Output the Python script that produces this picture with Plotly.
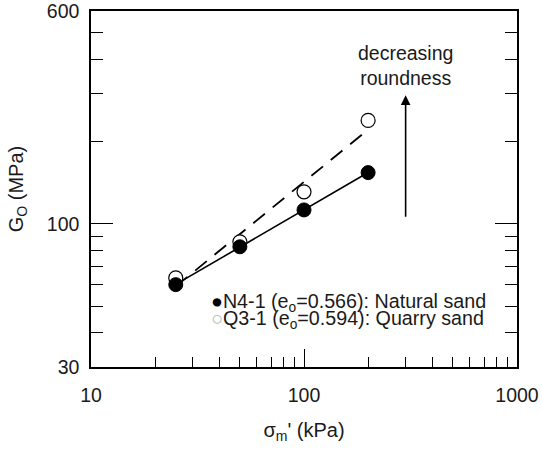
import numpy as np
import plotly.graph_objects as go

# Mean effective stress (kPa)
stress = [25, 50, 100, 200]
# Small-strain shear modulus (MPa)
g_natural = [60, 82.5, 112.5, 154]   # N4-1, natural sand
g_quarry = [63.5, 86, 131, 239]      # Q3-1, quarry sand

x_major = [10, 100, 1000]
x_minor = [20, 30, 40, 50, 60, 70, 80, 90, 200, 300, 400, 500, 600, 700, 800, 900]
y_major = [30, 100, 600]
y_minor = [40, 50, 60, 70, 80, 90, 200, 300, 400, 500]

FONT = "Liberation Sans, Arial, sans-serif"
TXT = "#1a1a1a"


def power_fit(x, y):
    lx, ly = np.log10(x), np.log10(y)
    b, a = np.polyfit(lx, ly, 1)
    xs = np.array([min(x), max(x)], dtype=float)
    return xs, 10 ** (a + b * np.log10(xs))


fx_n, fy_n = power_fit(stress, g_natural)
fx_q, fy_q = power_fit(stress, g_quarry)

fig = go.Figure()

# power-law trend lines
fig.add_trace(go.Scatter(x=fx_q, y=fy_q, mode="lines",
                         line=dict(color="black", width=1.8, dash="15px,10px"),
                         showlegend=False))
fig.add_trace(go.Scatter(x=fx_n, y=fy_n, mode="lines",
                         line=dict(color="black", width=1.6),
                         showlegend=False))

# measured points
fig.add_trace(go.Scatter(x=stress, y=g_quarry, mode="markers",
                         marker=dict(symbol="circle", size=14, color="white",
                                     line=dict(color="black", width=1.2)),
                         showlegend=False))
fig.add_trace(go.Scatter(x=stress, y=g_natural, mode="markers",
                         marker=dict(symbol="circle", size=14, color="black",
                                     line=dict(color="black", width=1)),
                         showlegend=False))

axis_common = dict(
    type="log",
    showgrid=False,
    zeroline=False,
    showline=True,
    linecolor="black",
    linewidth=1.5,
    ticks="inside",
    tickwidth=1.3,
    tickcolor="black",
    automargin=False,
    ticklabeloverflow="allow",
    tickfont=dict(family=FONT, size=19.5, color=TXT),
)

fig.update_xaxes(
    **axis_common,
    range=[1, 3],
    tickmode="array",
    tickvals=x_major,
    ticktext=[str(v) for v in x_major],
    ticklen=18,
    minor=dict(tickmode="array", tickvals=x_minor, ticks="inside",
               ticklen=10, tickwidth=1.3, tickcolor="black", showgrid=False),
    mirror=True,
    ticklabelstandoff=10,
    title=dict(text="σ<sub>m</sub>' (kPa)", font=dict(family=FONT, size=20, color=TXT),
               standoff=18),
)
fig.update_yaxes(
    **axis_common,
    range=[np.log10(30), np.log10(600)],
    tickmode="array",
    tickvals=y_major,
    ticktext=[str(v) for v in y_major],
    ticklen=22,
    minor=dict(tickmode="array", tickvals=y_minor, ticks="inside",
               ticklen=12, tickwidth=1.3, tickcolor="black", showgrid=False),
    mirror="ticks",
    ticklabelstandoff=6,
    title=dict(text="G<sub>O</sub> (MPa)", font=dict(family=FONT, size=20, color=TXT),
               standoff=18),
)

# arrow and its caption
fig.add_annotation(x=np.log10(300), y=np.log10(295), ax=np.log10(300), ay=np.log10(105),
                   xref="x", yref="y", axref="x", ayref="y",
                   showarrow=True, arrowhead=2, arrowsize=1.2, arrowwidth=1.6,
                   arrowcolor="black", text="")
fig.add_annotation(x=np.log10(300), y=np.log10(380), xref="x", yref="y",
                   text="decreasing<br>roundness", showarrow=False,
                   font=dict(family=FONT, size=19.5, color=TXT),
                   align="center")

# key
fig.add_annotation(x=np.log10(36), y=np.log10(51.7), xref="x", yref="y",
                   xanchor="left", yanchor="middle", showarrow=False,
                   text="<span style='color:black'>●</span>N4-1 (e<sub>o</sub>=0.566): Natural sand",
                   font=dict(family=FONT, size=19.7, color=TXT))
fig.add_annotation(x=np.log10(36), y=np.log10(44.8), xref="x", yref="y",
                   xanchor="left", yanchor="middle", showarrow=False,
                   text="<span style='color:#b0b0b0'>○</span>Q3-1 (e<sub>o</sub>=0.594): Quarry sand",
                   font=dict(family=FONT, size=19.7, color=TXT))

fig.update_layout(
    width=542, height=455,
    margin=dict(l=91, r=25, t=11, b=88),
    paper_bgcolor="white",
    plot_bgcolor="white",
    showlegend=False,
)

fig.write_html("out.html")
